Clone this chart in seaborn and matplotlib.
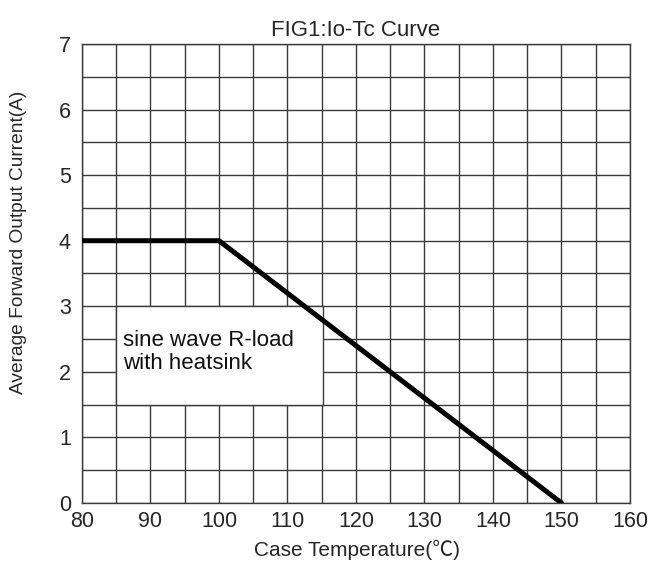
import numpy as np
import pandas as pd
import matplotlib
matplotlib.use('Agg')
import matplotlib.pyplot as plt
import seaborn as sns
from matplotlib.patches import Rectangle

# derating curve
temp_c = [80, 100, 150]
current_a = [4.0, 4.0, 0.0]

x_ticks = [80, 90, 100, 110, 120, 130, 140, 150, 160]
y_ticks = [0, 1, 2, 3, 4, 5, 6, 7]

sns.set_theme(style="white")
plt.rcParams['font.family'] = ['Liberation Sans', 'Noto Sans CJK SC', 'DejaVu Sans']

df = pd.DataFrame({"temp": temp_c, "current": current_a})

fig = plt.figure(figsize=(6.49, 5.64), dpi=100)
ax = fig.add_axes([0.1263, 0.1082, 0.9707 - 0.1263, 0.922 - 0.1082])

sns.lineplot(data=df, x="temp", y="current", ax=ax, color="black",
             linewidth=3.6, zorder=5, solid_capstyle='round', solid_joinstyle='miter')

ax.set_xlim(80, 160)
ax.set_ylim(0, 7)
ax.set_xticks(x_ticks)
ax.set_yticks(y_ticks)
ax.set_xticks(np.arange(80, 161, 5), minor=True)
ax.set_yticks(np.arange(0, 7.01, 0.5), minor=True)
ax.grid(True, which='both', color='#3a3a3a', linewidth=1.0, zorder=0)
ax.set_axisbelow(True)
ax.tick_params(which='both', length=0)
ax.tick_params(axis='x', labelsize=15.5, pad=6)
ax.tick_params(axis='y', labelsize=15.5, pad=8)
for sp in ax.spines.values():
    sp.set_color('#3a3a3a')
    sp.set_linewidth(1.0)

# annotation box covering the grid
ax.add_patch(Rectangle((85, 1.5), 30.2, 1.5, facecolor='white',
                       edgecolor='#3a3a3a', linewidth=1.0, zorder=3))
ax.text(86.0, 2.30, "sine wave R-load\nwith heatsink", fontsize=16,
        va='center', ha='left', linespacing=1.12, zorder=4, color='#111111')

ax.set_title("FIG1:Io-Tc Curve", fontsize=16, pad=6)
ax.set_xlabel("")
ax.set_ylabel("")
fig.text(357 / 649, 1 - 550 / 564, "Case Temperature(\u2103)", fontsize=15,
         ha='center', va='center')
fig.text(19 / 649, 1 - 242 / 564, "Average Forward Output Current(A)", fontsize=13.8,
         rotation=90, ha='center', va='center')

fig.savefig("out.png", dpi=100)
